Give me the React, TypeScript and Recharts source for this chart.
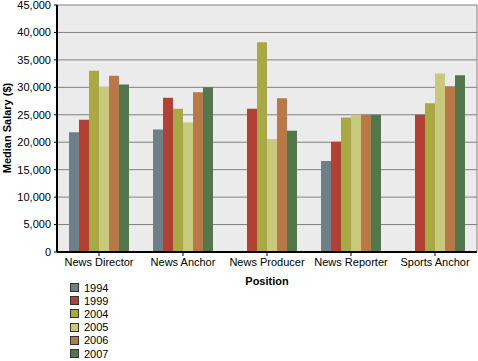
import React from 'react';
import { BarChart, Bar, XAxis, YAxis, CartesianGrid, Label } from 'recharts';

const positions = ['News Director', 'News Anchor', 'News Producer', 'News Reporter', 'Sports Anchor'];
const years = ['1994', '1999', '2004', '2005', '2006', '2007'];
const colors = ['#6e7f87', '#b04135', '#a8a945', '#c9c97e', '#b87848', '#53764a'];

const s1994 = [21800, 22300, null, 16600, null];
const s1999 = [24100, 28100, 26100, 20100, 25000];
const s2004 = [33000, 26100, 38200, 24500, 27100];
const s2005 = [30100, 23600, 20600, 25000, 32500];
const s2006 = [32100, 29100, 28000, 25000, 30200];
const s2007 = [30500, 30000, 22100, 25000, 32200];

const yTicks = [0, 5000, 10000, 15000, 20000, 25000, 30000, 35000, 40000, 45000];

const seriesValues = [s1994, s1999, s2004, s2005, s2006, s2007];
const data = positions.map((p, i) => {
  const row: any = { position: p };
  years.forEach((y, j) => {
    row[y] = seriesValues[j][i];
  });
  return row;
});

const FONT = '"Liberation Sans", Arial, sans-serif';

const LegendBlock = () => (
  <div
    style={{
      position: 'absolute',
      left: 70,
      top: 281,
      fontFamily: FONT,
      fontSize: 11,
      color: '#000',
    }}
  >
    {years.map((y, i) => (
      <div key={y} style={{ display: 'flex', alignItems: 'center', height: 13.2 }}>
        <span
          style={{
            display: 'inline-block',
            width: 7,
            height: 7,
            background: colors[i],
            border: '1px solid #333',
            marginRight: 5,
          }}
        />
        <span>{y}</span>
      </div>
    ))}
  </div>
);

export default function App() {
  return (
    <div style={{ position: 'absolute', left: 0, top: 0, width: 478, height: 361, background: '#fff' }}>
      <BarChart
        width={478}
        height={361}
        data={data}
        margin={{ top: 5, right: 0, bottom: 0, left: 0 }}
        barGap={0}
        barSize={10}
      >
        <CartesianGrid
          yAxisId="l"
          vertical={false}
          fill="#ebebeb"
          stroke="#808080"
          strokeWidth={1}
          strokeOpacity={1}
        />
        <XAxis
          dataKey="position"
          height={109}
          tickSize={4}
          tickMargin={2}
          axisLine={{ stroke: '#000', strokeWidth: 2 }}
          tickLine={{ stroke: '#000' }}
          tick={{ fill: '#000', fontSize: 11, fontFamily: FONT }}
          interval={0}
        >
          <Label
            content={(props: any) => {
              const vb = props.viewBox || {};
              return (
                <text
                  x={vb.x + vb.width / 2}
                  y={285}
                  textAnchor="middle"
                  fontFamily={FONT}
                  fontSize={11}
                  fontWeight="bold"
                  fill="#000"
                >
                  Position
                </text>
              );
            }}
          />
        </XAxis>
        <YAxis
          yAxisId="l"
          width={57}
          domain={[0, 45000]}
          ticks={yTicks}
          tickSize={3}
          tickMargin={3}
          interval={0}
          axisLine={{ stroke: '#000', strokeWidth: 2 }}
          tickLine={{ stroke: '#000' }}
          tick={{ fill: '#000', fontSize: 11, fontFamily: FONT }}
          tickFormatter={(v: number) => v.toLocaleString('en-US')}
        >
          <Label
            content={() => (
              <text
                x={11}
                y={128}
                transform="rotate(-90 11 128)"
                textAnchor="middle"
                fontFamily={FONT}
                fontSize={11}
                fontWeight="bold"
                fill="#000"
              >
                Median Salary ($)
              </text>
            )}
          />
        </YAxis>
        <YAxis
          yAxisId="r"
          orientation="right"
          width={1}
          domain={[0, 45000]}
          tick={false}
          tickLine={false}
          axisLine={{ stroke: '#808080', strokeWidth: 1 }}
        />
        {years.map((y, i) => (
          <Bar key={y} yAxisId="l" dataKey={y} fill={colors[i]} isAnimationActive={false} />
        ))}
      </BarChart>
      <LegendBlock />
    </div>
  );
}
